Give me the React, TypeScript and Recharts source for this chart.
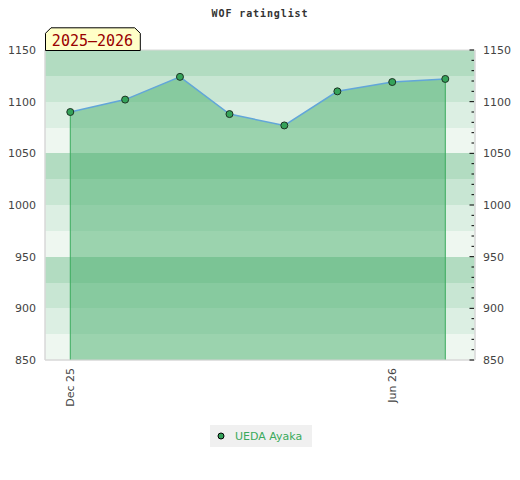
import React from 'react';
import {
  ComposedChart,
  Area,
  Line,
  XAxis,
  YAxis,
  CartesianGrid,
  ReferenceArea,
  ReferenceLine,
} from 'recharts';

const DAY = 86400000;
const toT = (s: string) => Date.parse(s + 'T00:00:00Z');

// Rating list dates and ratings
const dates = [
  '2025-12-01',
  '2026-01-01',
  '2026-02-01',
  '2026-03-01',
  '2026-04-01',
  '2026-05-01',
  '2026-06-01',
  '2026-07-01',
];
const ratings = [1090, 1102, 1124, 1088, 1077, 1110, 1119, 1122];

const xTickDates = ['2025-12-01', '2026-06-01'];
const xTickLabels = ['Dec 25', 'Jun 26'];
const yTicks = [850, 900, 950, 1000, 1050, 1100, 1150];
const yMinorTicks = Array.from({ length: 31 }, (_, i) => 850 + i * 10);

const seriesName = 'UEDA Ayaka';
const title = 'WOF ratinglist';
const season = '2025\u20132026';

// stripe colours from top to bottom, repeating every 100 rating points
const bandColors = ['#b2dcc1', '#c8e6d3', '#dcefe3', '#eef7f0'];

const data = dates.map((d, i) => ({ t: toT(d), rating: ratings[i] }));
const xDomain = [toT(dates[0]) - 14.3 * DAY, toT(dates[dates.length - 1]) + 16.8 * DAY];
const yMin = yTicks[0];
const yMax = yTicks[yTicks.length - 1];
const bandEdges = Array.from({ length: (yMax - yMin) / 25 }, (_, i) => yMax - i * 25);
const stripeFills = bandEdges.map((_, i) => bandColors[i % 4]);

const tickFont = { fontFamily: 'DejaVu Sans', fontSize: 11, fill: '#444' };

const stripeGenerator = (props: any) => {
  const { yAxis, offset } = props;
  if (yAxis && typeof yAxis.scale === 'function') {
    return bandEdges.map((v) => yAxis.scale(v));
  }
  return bandEdges.map((v) => offset.top + (offset.height * (yMax - v)) / (yMax - yMin));
};

const XTick = (props: any) => {
  const { x, y, payload } = props;
  const idx = xTickDates.map(toT).indexOf(payload.value);
  const label = idx >= 0 ? xTickLabels[idx] : '';
  return (
    <text
      x={x}
      y={y}
      dy="0.36em"
      textAnchor="end"
      transform={`rotate(-90, ${x}, ${y})`}
      {...tickFont}
    >
      {label}
    </text>
  );
};

const RightTick = (props: any) => {
  const { x, y, payload } = props;
  const v = payload.value;
  const major = v % 50 === 0;
  return (
    <g>
      <line
        x1={x - 9 - (major ? 4.5 : 2.5)}
        x2={x - 9}
        y1={y}
        y2={y}
        stroke="#000"
        strokeWidth={1}
      />
      {major && (
        <text x={x} y={y} dy="0.355em" textAnchor="start" {...tickFont}>
          {v}
        </text>
      )}
    </g>
  );
};

export default function App() {
  return (
    <div style={{ position: 'absolute', left: 0, top: 0, width: 520, height: 480, background: '#fff' }}>
      <ComposedChart
        width={520}
        height={480}
        data={data}
        margin={{ top: 50, right: 0, bottom: 0, left: 0 }}
      >
        <CartesianGrid
          yAxisId="left"
          horizontal={true}
          vertical={false}
          stroke="none"
          horizontalFill={stripeFills}
          fillOpacity={1}
          horizontalCoordinatesGenerator={stripeGenerator}
        />
        <ReferenceArea
          yAxisId="left"
          y1={yMin}
          y2={yMax}
          fill="none"
          stroke="#d8d8d8"
          strokeWidth={1}
        />
        <XAxis
          dataKey="t"
          type="number"
          domain={xDomain}
          ticks={xTickDates.map(toT)}
          height={120}
          tickLine={false}
          axisLine={{ stroke: '#d8d8d8' }}
          tick={<XTick />}
          interval={0}
        />
        <YAxis
          yAxisId="left"
          orientation="left"
          width={45}
          domain={[yMin, yMax]}
          ticks={yTicks}
          interval={0}
          tickLine={false}
          tickMargin={3}
          axisLine={{ stroke: '#d8d8d8' }}
          tick={tickFont}
        />
        <YAxis
          yAxisId="right"
          orientation="right"
          width={45}
          domain={[yMin, yMax]}
          ticks={yMinorTicks}
          interval={0}
          tickLine={false}
          axisLine={{ stroke: '#d8d8d8' }}
          tick={<RightTick />}
        />
        <Line
          yAxisId="right"
          dataKey="rating"
          stroke="none"
          dot={false}
          activeDot={false}
          legendType="none"
          isAnimationActive={false}
        />
        <Area
          yAxisId="left"
          type="linear"
          dataKey="rating"
          baseValue={yMin}
          fill="#3eaa63"
          fillOpacity={0.47}
          stroke="#62a6d9"
          strokeWidth={1.5}
          dot={{ r: 3.5, fill: '#35a35a', stroke: '#1c3323', strokeWidth: 1, fillOpacity: 1 }}
          activeDot={false}
          isAnimationActive={false}
        />
        <ReferenceLine
          yAxisId="left"
          segment={[
            { x: data[0].t, y: yMin },
            { x: data[0].t, y: data[0].rating },
          ]}
          stroke="#3aaa5c"
          strokeWidth={1}
        />
        <ReferenceLine
          yAxisId="left"
          segment={[
            { x: data[data.length - 1].t, y: yMin },
            { x: data[data.length - 1].t, y: data[data.length - 1].rating },
          ]}
          stroke="#3aaa5c"
          strokeWidth={1}
        />
      </ComposedChart>
      <svg
        width={520}
        height={60}
        style={{ position: 'absolute', left: 0, top: 0, pointerEvents: 'none' }}
      >
        <text
          x={260}
          y={16.5}
          textAnchor="middle"
          fontFamily="DejaVu Sans Mono"
          fontWeight="bold"
          fontSize={10}
          letterSpacing={0.9}
          fill="#333"
        >
          {title}
        </text>
        <polygon
          points="45.5,50.5 45.5,33.3 51,27.8 134.7,27.8 140.3,33.3 140.3,50.5"
          fill="#ffffc8"
          stroke="#000"
          strokeWidth={1}
        />
        <text
          x={92.5}
          y={45.5}
          textAnchor="middle"
          fontFamily="DejaVu Sans Mono"
          fontSize={15}
          fill="#990000"
        >
          {season}
        </text>
      </svg>
      <div
        style={{
          position: 'absolute',
          left: 210,
          top: 425,
          width: 102,
          height: 22,
          background: '#f0f0f0',
          display: 'flex',
          alignItems: 'center',
          fontFamily: 'DejaVu Sans',
          fontSize: 11,
          color: '#3aaa5c',
        }}
      >
        <svg width={25} height={22} style={{ flex: 'none' }}>
          <circle cx={11} cy={11} r={3} fill="#35a35a" stroke="#000" strokeWidth={1} />
        </svg>
        <span>{seriesName}</span>
      </div>
    </div>
  );
}
